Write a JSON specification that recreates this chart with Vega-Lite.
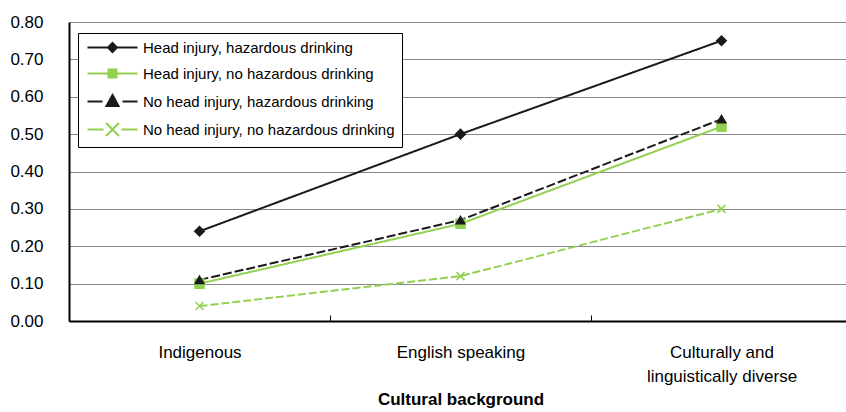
{
  "$schema": "https://vega.github.io/schema/vega-lite/v6.json",
  "width": 783,
  "height": 299,
  "autosize": {"type": "none"},
  "padding": {"left": 69, "top": 22, "right": 0, "bottom": 91},
  "background": "white",
  "config": {
    "view": {"stroke": null},
    "font": "Liberation Sans",
    "axis": {"labelFont": "Liberation Sans", "titleFont": "Liberation Sans", "labelColor": "#000", "titleColor": "#000"},
    "legend": {"labelFont": "Liberation Sans"}
  },
  "data": {
    "values": [
      {"series": "Head injury, hazardous drinking", "background": "Indigenous", "value": 0.24},
      {"series": "Head injury, hazardous drinking", "background": "English speaking", "value": 0.50},
      {"series": "Head injury, hazardous drinking", "background": "Culturally and linguistically diverse", "value": 0.75},
      {"series": "Head injury, no hazardous drinking", "background": "Indigenous", "value": 0.10},
      {"series": "Head injury, no hazardous drinking", "background": "English speaking", "value": 0.26},
      {"series": "Head injury, no hazardous drinking", "background": "Culturally and linguistically diverse", "value": 0.52},
      {"series": "No head injury, hazardous drinking", "background": "Indigenous", "value": 0.11},
      {"series": "No head injury, hazardous drinking", "background": "English speaking", "value": 0.27},
      {"series": "No head injury, hazardous drinking", "background": "Culturally and linguistically diverse", "value": 0.54},
      {"series": "No head injury, no hazardous drinking", "background": "Indigenous", "value": 0.04},
      {"series": "No head injury, no hazardous drinking", "background": "English speaking", "value": 0.12},
      {"series": "No head injury, no hazardous drinking", "background": "Culturally and linguistically diverse", "value": 0.30}
    ]
  },
  "encoding": {
    "x": {
      "field": "background",
      "type": "nominal",
      "sort": ["Indigenous", "English speaking", "Culturally and linguistically diverse"],
      "scale": {"type": "band", "paddingInner": 0, "paddingOuter": 0},
      "axis": {
        "title": "Cultural background",
        "titleFontWeight": "bold",
        "titleFontSize": 17,
        "titlePadding": 7,
        "labelAngle": 0,
        "labelFontSize": 17,
        "labelPadding": 29,
        "labelLineHeight": 24,
        "labelOverlap": false,
        "labelLimit": 400,
        "labelExpr": "datum.value == 'Culturally and linguistically diverse' ? ['Culturally and', 'linguistically diverse'] : datum.value",
        "domainColor": "#000",
        "domainWidth": 2,
        "tickColor": "#000",
        "tickWidth": 1,
        "tickSize": -6,
        "tickBand": "extent",
        "grid": false
      }
    },
    "y": {
      "field": "value",
      "type": "quantitative",
      "scale": {"domain": [0, 0.8]},
      "axis": {
        "title": null,
        "values": [0, 0.1, 0.2, 0.3, 0.4, 0.5, 0.6, 0.7, 0.8],
        "format": ".2f",
        "grid": true,
        "gridColor": "#888",
        "gridWidth": 1,
        "ticks": false,
        "labelPadding": 26,
        "labelFontSize": 17,
        "domainColor": "#000",
        "domainWidth": 2
      }
    }
  },
  "resolve": {"scale": {"color": "independent", "stroke": "independent", "shape": "independent"}},
  "layer": [
    {
      "mark": {"type": "line", "strokeWidth": 2},
      "encoding": {
        "color": {
          "field": "series",
          "type": "nominal",
          "scale": {
            "domain": ["Head injury, hazardous drinking", "Head injury, no hazardous drinking", "No head injury, hazardous drinking", "No head injury, no hazardous drinking"],
            "range": ["#1a1a1a", "#92d050", "#1a1a1a", "#92d050"]
          },
          "legend": null
        },
        "strokeDash": {
          "field": "series",
          "type": "nominal",
          "scale": {
            "domain": ["Head injury, hazardous drinking", "Head injury, no hazardous drinking", "No head injury, hazardous drinking", "No head injury, no hazardous drinking"],
            "range": [[1, 0], [1, 0], [9, 3], [8, 3]]
          },
          "legend": null
        }
      }
    },
    {
      "mark": {"type": "point", "filled": true, "opacity": 1, "strokeWidth": 1.5},
      "encoding": {
        "color": {
          "field": "series",
          "type": "nominal",
          "scale": {
            "domain": ["Head injury, hazardous drinking", "Head injury, no hazardous drinking", "No head injury, hazardous drinking", "No head injury, no hazardous drinking"],
            "range": ["#1a1a1a", "#92d050", "#1a1a1a", "#92d050"]
          },
          "legend": null
        },
        "stroke": {
          "field": "series",
          "type": "nominal",
          "scale": {
            "domain": ["Head injury, hazardous drinking", "Head injury, no hazardous drinking", "No head injury, hazardous drinking", "No head injury, no hazardous drinking"],
            "range": ["#1a1a1a", "#92d050", "#1a1a1a", "#92d050"]
          },
          "legend": null
        },
        "shape": {
          "field": "series",
          "type": "nominal",
          "scale": {
            "domain": ["Head injury, hazardous drinking", "Head injury, no hazardous drinking", "No head injury, hazardous drinking", "No head injury, no hazardous drinking"],
            "range": ["diamond", "square", "triangle-up", "M-1,-1L1,1M-1,1L1,-1"]
          },
          "legend": null
        },
        "size": {
          "field": "series",
          "type": "nominal",
          "scale": {
            "domain": ["Head injury, hazardous drinking", "Head injury, no hazardous drinking", "No head injury, hazardous drinking", "No head injury, no hazardous drinking"],
            "range": [90, 64, 120, 150]
          },
          "legend": null
        }
      }
    },
    {
      "mark": {"type": "point", "filled": true, "opacity": 0},
      "encoding": {
        "color": {
          "field": "series",
          "type": "nominal",
          "scale": {
            "domain": ["Head injury, hazardous drinking", "Head injury, no hazardous drinking", "No head injury, hazardous drinking", "No head injury, no hazardous drinking"],
            "range": ["#1a1a1a", "#92d050", "#1a1a1a", "#92d050"]
          },
          "legend": {
            "title": null,
            "orient": "none",
            "legendX": 9,
            "legendY": 11,
            "direction": "vertical",
            "strokeColor": "#000",
            "fillColor": "#fff",
            "padding": 7,
            "symbolSize": 100,
            "symbolStrokeWidth": 2,
            "symbolOpacity": 1,
            "labelOffset": 43,
            "labelFontSize": 15,
            "labelLimit": 400,
            "labelColor": "#000",
            "rowPadding": 9
          }
        },
        "stroke": {
          "field": "series",
          "type": "nominal",
          "scale": {
            "domain": ["Head injury, hazardous drinking", "Head injury, no hazardous drinking", "No head injury, hazardous drinking", "No head injury, no hazardous drinking"],
            "range": ["#1a1a1a", "#92d050", "#1a1a1a", "#92d050"]
          },
          "legend": null
        },
        "shape": {
          "field": "series",
          "type": "nominal",
          "scale": {
            "domain": ["Head injury, hazardous drinking", "Head injury, no hazardous drinking", "No head injury, hazardous drinking", "No head injury, no hazardous drinking"],
            "range": ["M-1,0H9M4,-0.9L4.9,0L4,0.9L3.1,0Z", "M-1,0H9M3.2,-0.8H4.8V0.8H3.2Z", "M-1,0H2M6,0H9M4,-1.3L5.2,0.9L2.8,0.9Z", "M-1,0H2.2M5.8,0H9M2.7,-1.3L5.3,1.3M2.7,1.3L5.3,-1.3"]
          },
          "legend": null
        }
      }
    }
  ]
}
